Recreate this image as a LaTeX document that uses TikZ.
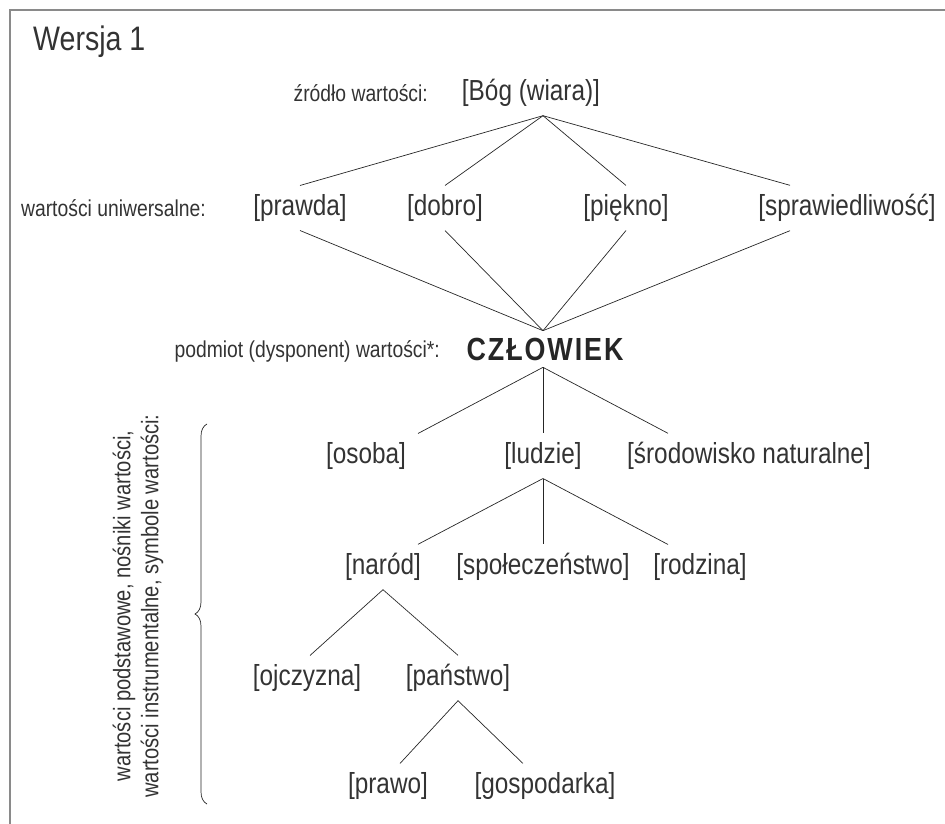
\documentclass[tikz,border=0pt]{standalone}
\usepackage{fontspec}
\setmainfont{Liberation Sans}[FakeStretch=0.84]
\usetikzlibrary{decorations.pathreplacing}
\definecolor{tekst}{HTML}{333333}
\definecolor{ramka}{HTML}{8A8A8A}

\begin{document}
\begin{tikzpicture}[x=1pt,y=-1pt]
        \tikzstyle{wart}=[font=\fontsize{29}{33}\selectfont, text=tekst, inner sep=4pt, outer sep=5pt]
        \tikzstyle{opis}=[font=\fontsize{23}{27}\selectfont, text=tekst, anchor=east, inner sep=0pt]
        \tikzstyle{linia}=[draw=black!85, line width=0.7pt]
        \useasboundingbox (0,0) rectangle (945,824);
        \draw[ramka, line width=1.3pt] (10,824) -- (10,10) -- (945,10);
        \node[font=\fontsize{34}{38}\selectfont, text=tekst, anchor=west, inner sep=0pt] (wersja) at (33,42) {Wersja 1};

        % zrodlo
        \node[opis] (l0) at (428,93) {źródło wartości:};
        \node[wart] (bog) at (531,93) {[Bóg (wiara)]};
        \coordinate (b0) at ([xshift=12pt]bog.south);

        % wartosci uniwersalne
        \node[opis] (l1) at (206,208) {wartości uniwersalne:};
        \node[wart] (prawda) at (300,208) {[prawda]};
        \node[wart] (dobro) at (445,208) {[dobro]};
        \node[wart] (piekno) at (626,208) {[piękno]};
        \node[wart] (spraw) at (847,208) {[sprawiedliwość]};

        % czlowiek
        \node[opis] (l2) at (440,351) {podmiot (dysponent) wartości*:};
        \node[font=\fontsize{32}{36}\bfseries\addfontfeature{LetterSpace=6}, text=black!85, inner sep=2pt, outer sep=5pt] (czlowiek) at (545,349) {CZŁOWIEK};

        \foreach \n in {prawda,dobro,piekno} {
            \draw[linia] (b0) -- (\n.north);
            \draw[linia] (\n.south) -- ([xshift=-2pt]czlowiek.north);
        }
        \draw[linia] (b0) -- ([xshift=-57pt]spraw.north);
        \draw[linia] ([xshift=-57pt]spraw.south) -- ([xshift=-2pt]czlowiek.north);

        % osoba, ludzie, srodowisko
        \node[wart] (osoba) at (366,456) {[osoba]};
        \node[wart] (ludzie) at (543,456) {[ludzie]};
        \node[wart] (srod) at (749,456) {[środowisko naturalne]};
        \draw[linia] ([xshift=-2pt]czlowiek.south) -- ([xshift=52pt]osoba.north);
        \draw[linia] ([xshift=-2pt]czlowiek.south) -- (ludzie.north);
        \draw[linia] ([xshift=-2pt]czlowiek.south) -- ([xshift=-81pt]srod.north);

        % narod, spoleczenstwo, rodzina
        \node[wart] (narod) at (383,567) {[naród]};
        \node[wart] (spol) at (543,567) {[społeczeństwo]};
        \node[wart] (rodzina) at (700,567) {[rodzina]};
        \draw[linia] (ludzie.south) -- ([xshift=35pt]narod.north);
        \draw[linia] (ludzie.south) -- (spol.north);
        \draw[linia] (ludzie.south) -- ([xshift=-32pt]rodzina.north);

        % ojczyzna, panstwo
        \node[wart] (ojczyzna) at (307,678) {[ojczyzna]};
        \node[wart] (panstwo) at (458,678) {[państwo]};
        \draw[linia] (narod.south) -- ([xshift=3pt]ojczyzna.north);
        \draw[linia] (narod.south) -- (panstwo.north);

        % prawo, gospodarka
        \node[wart] (prawo) at (388,786) {[prawo]};
        \node[wart] (gosp) at (545,786) {[gospodarka]};
        \draw[linia] (panstwo.south) -- ([xshift=12pt]prawo.north);
        \draw[linia] (panstwo.south) -- ([xshift=-22pt]gosp.north);

        % klamra
        \coordinate (k1) at (207,804);
        \coordinate (k2) at (207,424);
        \draw[black!85, line width=0.7pt, decorate, decoration={brace, amplitude=12pt}] (k1) -- (k2);
        \node[font=\fontsize{24}{28}\selectfont, text=tekst, rotate=90, align=center] (podst) at (138,606)
            {wartości podstawowe, nośniki wartości,\\wartości instrumentalne, symbole wartości:};
    \end{tikzpicture}
\end{document}
